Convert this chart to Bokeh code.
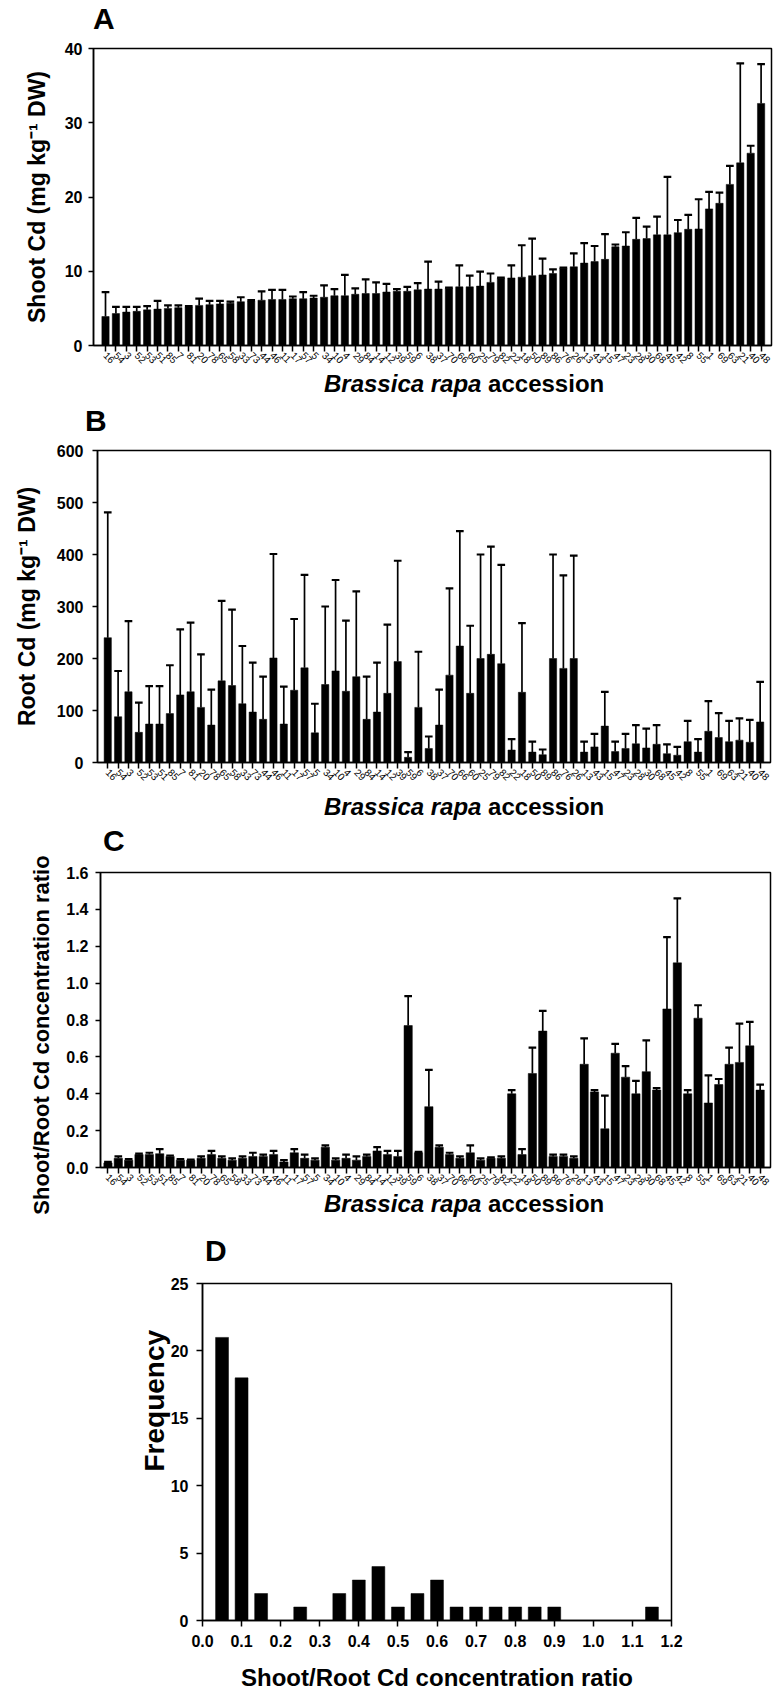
import math
from bokeh.plotting import figure
from bokeh.models import FixedTicker, Range1d, PrintfTickFormatter, Div, Title
from bokeh.layouts import row, column
from bokeh.embed import file_html
from bokeh.resources import INLINE

# ---------------- data ----------------
accessions = ["16", "54", "3", "52", "53", "51", "85", "7", "81", "20", "78", "65", "58", "33", "73", "44",
              "46", "11", "17", "57", "5", "34", "10", "4", "29", "84", "14", "12", "39", "59", "6", "38",
              "37", "70", "66", "60", "25", "79", "82", "22", "18", "50", "89", "86", "76", "26", "13", "43",
              "15", "47", "23", "28", "30", "68", "45", "42", "8", "55", "1", "69", "63", "21", "40", "48"]

shoot_cd = [3.9, 4.3, 4.5, 4.6, 4.8, 4.9, 5.0, 5.1, 5.2, 5.4, 5.5, 5.6, 5.7, 5.9, 6.0, 6.1,
            6.2, 6.2, 6.3, 6.3, 6.4, 6.5, 6.7, 6.7, 6.9, 7.0, 7.0, 7.2, 7.3, 7.3, 7.5, 7.6,
            7.6, 7.7, 7.9, 7.9, 8.0, 8.5, 9.05, 9.1, 9.2, 9.4, 9.5, 9.7, 10.4, 10.6, 11.1, 11.3,
            11.6, 13.3, 13.4, 14.3, 14.4, 14.9, 14.9, 15.2, 15.65, 15.7, 18.4, 19.15, 21.7, 24.6, 25.9, 32.6]
shoot_sd = [3.3, 0.9, 0.7, 0.6, 0.5, 1.1, 0.4, 0.3, 0.1, 0.9, 0.5, 0.4, 0.2, 0.6, 0.1, 1.2,
            1.3, 1.3, 0.3, 0.9, 0.3, 1.6, 0.9, 2.8, 0.8, 1.9, 1.5, 1.1, 0.3, 0.6, 0.9, 3.7,
            1.0, 0.1, 2.9, 1.5, 1.95, 1.2, 0.1, 1.7, 4.3, 5.0, 2.2, 0.55, 0.1, 1.8, 2.7, 2.1,
            3.4, 0.3, 1.85, 2.9, 1.6, 2.45, 7.8, 1.7, 1.95, 4.0, 2.3, 1.45, 2.5, 13.4, 1.0, 5.3]

root_cd = [240, 88, 136, 58, 74, 74, 94, 130, 136, 106, 72, 157, 148, 113, 97, 83,
           201, 74, 139, 182, 57, 150, 176, 137, 165, 83, 97, 133, 194, 10, 106, 27,
           72, 168, 224, 133, 200, 208, 190, 24, 135, 20, 15, 200, 181, 200, 20, 30,
           70, 21, 27, 36, 28, 35, 17, 14, 40, 20, 60, 48, 40, 43, 39, 78]
root_sd = [241, 88, 136, 57, 73, 73, 93, 126, 133, 102, 68, 154, 146, 111, 95, 82,
           200, 72, 137, 179, 56, 150, 175, 136, 164, 82, 95, 132, 194, 10, 107, 23,
           68, 167, 221, 130, 200, 207, 190, 21, 133, 20, 10, 200, 179, 198, 20, 25,
           66, 19, 28, 36, 37, 37, 18, 16, 40, 25, 58, 47, 40, 42, 43, 77]

ratio = [0.025, 0.05, 0.04, 0.07, 0.07, 0.075, 0.06, 0.04, 0.04, 0.05, 0.07, 0.05, 0.04, 0.05, 0.06, 0.06,
         0.07, 0.03, 0.08, 0.05, 0.04, 0.11, 0.04, 0.05, 0.04, 0.06, 0.09, 0.07, 0.06, 0.77, 0.08, 0.33,
         0.11, 0.07, 0.05, 0.08, 0.04, 0.05, 0.05, 0.40, 0.07, 0.51, 0.74, 0.06, 0.06, 0.05, 0.56, 0.41,
         0.21, 0.62, 0.49, 0.40, 0.52, 0.42, 0.86, 1.11, 0.40, 0.81, 0.35, 0.45, 0.56, 0.57, 0.66, 0.42]
ratio_sd = [0.005, 0.01, 0.005, 0.005, 0.01, 0.025, 0.005, 0.005, 0.003, 0.01, 0.02, 0.01, 0.01, 0.01, 0.02, 0.01,
            0.02, 0.01, 0.02, 0.02, 0.01, 0.01, 0.01, 0.02, 0.02, 0.01, 0.02, 0.02, 0.03, 0.16, 0.005, 0.20,
            0.01, 0.01, 0.01, 0.04, 0.01, 0.005, 0.01, 0.02, 0.03, 0.14, 0.11, 0.01, 0.01, 0.01, 0.14, 0.01,
            0.18, 0.05, 0.06, 0.07, 0.17, 0.01, 0.39, 0.35, 0.02, 0.07, 0.15, 0.03, 0.09, 0.21, 0.13, 0.03]

hist_bins = [0.05, 0.10, 0.15, 0.25, 0.35, 0.40, 0.45, 0.50, 0.55, 0.60, 0.65, 0.70, 0.75, 0.80, 0.85, 0.90, 1.15]
hist_counts = [21, 18, 2, 1, 2, 3, 4, 1, 2, 3, 1, 1, 1, 1, 1, 1, 1]

a_yticks = [0, 10, 20, 30, 40]
b_yticks = [0, 100, 200, 300, 400, 500, 600]
c_yticks = [0.0, 0.2, 0.4, 0.6, 0.8, 1.0, 1.2, 1.4, 1.6]
d_xticks = [round(0.1 * k, 1) for k in range(13)]
d_yticks = [0, 5, 10, 15, 20, 25]

# ---------------- styling helpers ----------------
FONT = "Liberation Sans"
W = 780


def make_fig(width, height, bl, br, top, bottom, xr, yr):
    p = figure(width=width, height=height, output_backend="svg", toolbar_location=None,
               x_range=Range1d(*xr), y_range=Range1d(*yr),
               min_border_left=bl, min_border_right=br,
               min_border_top=top, min_border_bottom=bottom)
    p.xgrid.visible = False
    p.ygrid.visible = False
    p.outline_line_color = "black"
    p.outline_line_width = 1.5
    p.background_fill_color = "white"
    p.border_fill_color = "white"
    for ax in (p.xaxis[0], p.yaxis[0]):
        ax.axis_line_width = 1.5
        ax.axis_line_color = "black"
        ax.major_tick_line_width = 1.5
        ax.major_tick_line_color = "black"
        ax.major_tick_in = 0
        ax.minor_tick_line_color = None
        ax.major_label_text_font = FONT
        ax.major_label_text_color = "black"
        ax.axis_label_text_font = FONT
        ax.axis_label_text_font_style = "bold"
        ax.axis_label_text_color = "black"
    return p


def text_div(width, height, items):
    inner = ""
    for left, top, html, size in items:
        inner += ('<div style="position:absolute;left:%dpx;top:%dpx;font-family:\'Liberation Sans\';'
                  'font-size:%dpx;font-weight:bold;line-height:%dpx;white-space:nowrap;color:black;">%s</div>'
                  % (left, top, size, size, html))
    html = '<div style="position:relative;width:%dpx;height:%dpx;">%s</div>' % (width, height, inner)
    return Div(text=html, width=width, height=height, margin=0)


def vtext_div(width, height, cx, cy, text, size):
    html = ('<div style="position:relative;width:%dpx;height:%dpx;">'
            '<div style="position:absolute;left:%dpx;top:%dpx;transform:translate(-50%%,-50%%) rotate(-90deg);'
            'font-family:\'Liberation Sans\';font-size:%dpx;font-weight:bold;line-height:%dpx;'
            'white-space:nowrap;color:black;">%s</div></div>' % (width, height, cx, cy, size, size, text))
    return Div(text=html, width=width, height=height, margin=0)


XTITLE = "<i>Brassica rapa</i> accession"


def accession_panel(width, height, bl, br, top, bottom, x0, yr, yticks, means, sds,
                    ylabel, bar_w, ylab_standoff, tick_gap, fmt=None):
    n = len(accessions)
    xr = (x0, 64.0)
    p = make_fig(width, height, bl, br, top, bottom, xr, yr)
    xs = list(range(n))
    p.vbar(x=xs, top=means, width=bar_w, bottom=0, fill_color="black", line_color="black", line_width=0.5)
    tops = [m + s for m, s in zip(means, sds)]
    p.segment(x0=xs, y0=means, x1=xs, y1=tops, line_color="black", line_width=1.7)
    p.segment(x0=[x - 0.37 for x in xs], y0=tops, x1=[x + 0.37 for x in xs], y1=tops,
              line_color="black", line_width=2.2)
    xa = p.xaxis[0]
    xa.ticker = FixedTicker(ticks=xs)
    xa.major_label_overrides = {i: a for i, a in enumerate(accessions)}
    xa.major_label_orientation = -math.pi / 4
    xa.major_label_text_font_size = "10px"
    xa.major_tick_out = 6
    xa.major_label_standoff = 2
    ya = p.yaxis[0]
    ya.ticker = FixedTicker(ticks=yticks)
    ya.major_tick_out = 5
    ya.major_label_standoff = tick_gap
    ya.major_label_text_font_size = "16px"
    ya.major_label_text_font_style = "bold"
    if ylabel:
        ya.axis_label = ylabel
        ya.axis_label_text_font_size = "23px"
        ya.axis_label_standoff = ylab_standoff
    if fmt:
        ya.formatter = PrintfTickFormatter(format=fmt)
    return p


# Panel A  (page y 0 -> 400)
divA = text_div(W, 40, [(93, 4, "A", 30)])
pA = accession_panel(W, 332, 93, 9, 8, 27, -1.154, (0, 40), a_yticks, shoot_cd, shoot_sd,
                     "Shoot Cd (mg kg\u207b\u00b9 DW)", 0.7, 12, 6)
tA = text_div(W, 28, [(324, 0, XTITLE, 24)])

# Panel B  (page y 400 -> 825)
divB = text_div(W, 42, [(85, 6, "B", 30)])
pB = accession_panel(W, 348, 97, 10, 8, 28, -0.99, (0, 600), b_yticks, root_cd, root_sd,
                     "Root Cd (mg kg\u207b\u00b9 DW)", 0.7, 14, 9)
tB = text_div(W, 35, [(324, 5, XTITLE, 24)])

# Panel C  (page y 825 -> 1225); its long y title sits in a side column
LW = 60
ylabC = vtext_div(LW, 400, 42, 210, "Shoot/Root Cd concentration ratio", 22)
divC = text_div(W - LW, 39, [(103 - LW, 1, "C", 30)])
pC = accession_panel(W - LW, 328, 100 - LW, 10, 8, 24, -0.72, (0, 1.6), c_yticks, ratio, ratio_sd,
                     None, 0.8, 9, 7, fmt="%.1f")
tC = text_div(W - LW, 33, [(324 - LW, 0, XTITLE, 24)])
blockC = row(ylabC, column(divC, pC, tC, spacing=0), spacing=0)

# Panel D  (page y 1225 -> 1696)
divD = text_div(W, 49, [(205, 11, "D", 30)])
pD = make_fig(W, 422, 202, 109, 9, 76, (0, 1.2), (0, 25))
pD.vbar(x=hist_bins, top=hist_counts, width=0.033, bottom=0, fill_color="black", line_color="black", line_width=0.5)
xa = pD.xaxis[0]
xa.ticker = FixedTicker(ticks=d_xticks)
xa.formatter = PrintfTickFormatter(format="%.1f")
xa.major_tick_out = 6
xa.major_label_standoff = 8
xa.major_label_text_font_size = "16px"
xa.major_label_text_font_style = "bold"
xa.axis_label = "Shoot/Root Cd concentration ratio"
xa.axis_label_text_font_size = "24px"
xa.axis_label_standoff = 14
ya = pD.yaxis[0]
ya.ticker = FixedTicker(ticks=d_yticks)
ya.major_tick_out = 6
ya.major_label_standoff = 8
ya.major_label_text_font_size = "16px"
ya.major_label_text_font_style = "bold"
pD.add_layout(Title(text="Frequency", align="left", offset=149, standoff=-4,
                    text_font=FONT, text_font_size="28px", text_font_style="bold",
                    text_color="black"), "left")

roots = [divA, pA, tA, divB, pB, tB, blockC, divD, pD]
open("out.html", "w").write(file_html(roots, INLINE))
